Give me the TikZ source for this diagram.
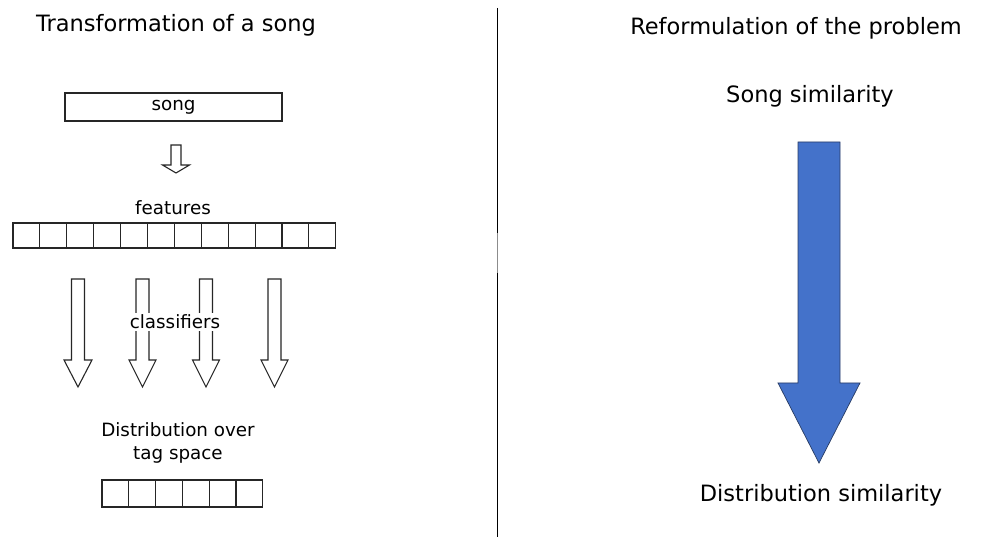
\documentclass[tikz,border=0pt]{standalone}
\usepackage{fontspec}
\setmainfont{DejaVu Sans}
\definecolor{arrowblue}{RGB}{68,114,202}
\definecolor{arrowedge}{RGB}{40,60,100}
\newcommand\hollowdown[6]{% cx, top, shaft half-width, head base, head half-width, tip
  \draw[hollow] (#1-#3,#2) -- (#1+#3,#2) -- (#1+#3,#4) -- (#1+#5,#4) -- (#1,#6)
    -- (#1-#5,#4) -- (#1-#3,#4) -- cycle;}
\begin{document}
\begin{tikzpicture}[x=1pt,y=-1pt,
  hollow/.style={draw=black!85,line width=1.1pt,fill=white,line join=miter},
  title/.style={font=\fontsize{22.5}{26}\selectfont,inner sep=0pt},
  label/.style={font=\fontsize{18.3}{23}\selectfont,inner sep=0pt,align=center},
  cell/.style={draw=black!85,line width=1.1pt,minimum width=26.9pt,minimum height=25pt,inner sep=0pt,outer sep=0pt},
  smallcell/.style={cell,minimum width=26.8pt,minimum height=27pt}]
\useasboundingbox (0,0) rectangle (983,537);
% divider between the two halves
\draw[line width=1pt] (497,8) -- (497,233);
\draw[line width=1pt,black!45] (497,233) -- (497,273);
\draw[line width=1pt] (497,273) -- (497,537);
% left half
\node[title] (ltitle) at (176,25) {Transformation of a song};
\node[draw=black!85,line width=1.1pt,minimum width=217pt,minimum height=28pt,inner sep=0pt,label] (song) at (173.5,107) {song};
\hollowdown{176}{145}{5}{165}{13.5}{173}
\node[label] (feat) at (173,208) {features};
\foreach \i in {1,...,12}
  \node[cell] (f\i) at ({13+26.9*(\i-0.5)},235.5) {};
\hollowdown{78}{279}{6.5}{360}{14}{387}
\hollowdown{142.5}{279}{6.5}{360}{13.5}{387}
\hollowdown{206}{279}{6.5}{360}{13.5}{387}
\hollowdown{274.5}{279}{6.5}{360}{13.5}{387}
\node[label,fill=white,inner sep=2pt] (clf) at (175,322) {classifiers};
\node[label] (dist) at (178,443) {Distribution over\\tag space};
\foreach \i in {1,...,6}
  \node[smallcell] (d\i) at ({102+26.8*(\i-0.5)},493.5) {};
% right half
\node[title] (rtitle) at (796,28) {Reformulation of the problem};
\node[title] (songsim) at (810,96) {Song similarity};
\draw[fill=arrowblue,draw=arrowedge,line width=0.7pt,line join=miter]
  (798,142) -- (840,142) -- (840,383) -- (860,383) -- (819,463) -- (778,383) -- (798,383) -- cycle;
\node[title] (distsim) at (821,495) {Distribution similarity};
\end{tikzpicture}
\end{document}
